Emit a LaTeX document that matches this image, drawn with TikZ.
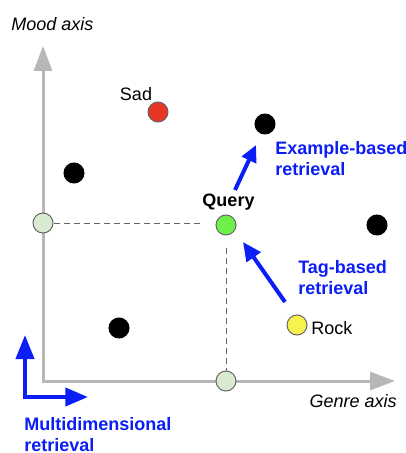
\documentclass[tikz,border=0pt]{standalone}
\usepackage{fontspec}
\setmainfont{Liberation Sans}
\usetikzlibrary{arrows.meta}
\definecolor{axisgray}{HTML}{B7B7B7}
\definecolor{bblue}{HTML}{0A1EF5}
\definecolor{dotline}{HTML}{666666}
\definecolor{projfill}{HTML}{D9EAD3}
\definecolor{qgreen}{HTML}{6EF04B}
\definecolor{sadred}{HTML}{E53626}
\definecolor{rockyellow}{HTML}{F8F24E}
\begin{document}
\begin{tikzpicture}[x=0.75pt,y=-0.75pt,
  dot/.style={circle, draw=dotline, line width=0.75pt, minimum size=15pt, inner sep=0pt},
  blackdot/.style={dot, draw=black, fill=black},
  lbl/.style={inner sep=0pt, font=\fontsize{13.5}{15.5}\selectfont},
  bluelbl/.style={lbl, text=bblue, font=\fontsize{13.5}{15.3}\selectfont\bfseries, align=left},
  axisline/.style={draw=axisgray, line width=2.25pt,
    {Triangle[length=18.75pt,width=13.5pt]}-{Triangle[length=18.75pt,width=13.5pt]}},
  projline/.style={draw=dotline, line width=0.6pt, dash pattern=on 4.5pt off 3pt},
  barrow/.style={draw=bblue, line width=3pt, -{Triangle[length=12.5pt,width=11.5pt]}}
]
\useasboundingbox (0,0) rectangle (406,453);

% axes
\coordinate (origin) at (43,381);
\coordinate (moodtip) at (43,46);
\coordinate (genretip) at (395,381);
\draw[axisline] (moodtip) -- (origin) -- (genretip);

% points
\node[dot, fill=sadred] (sad) at (158,112) {};
\node[blackdot] (b1) at (265,124) {};
\node[blackdot] (b2) at (74,173) {};
\node[blackdot] (b3) at (377,225) {};
\node[blackdot] (b4) at (119,328) {};
\node[dot, fill=qgreen] (query) at (226,225) {};
\node[dot, fill=rockyellow] (rock) at (297,325) {};
\node[dot, fill=projfill] (pm) at (43,223) {};
\node[dot, fill=projfill] (pg) at (226,381) {};

% projection lines
\draw[projline, shorten >=9.5pt] (pm.east) -- (pm.east -| query.west);
\draw[projline, shorten <=9pt] (query.south) -- (pg.north);

% labels
\node[lbl, font=\fontsize{13.5}{15.5}\selectfont\itshape, anchor=base west] (moodlbl) at (11,31) {Mood axis};
\node[lbl, font=\fontsize{13.5}{15.5}\selectfont\itshape, anchor=base east] (genrelbl) at (397,407) {Genre axis};
\node[lbl, anchor=base] (sadlbl) at (136,100) {Sad};
\node[lbl, font=\fontsize{13.5}{15.5}\selectfont\bfseries, anchor=base] (querylbl) at (228.5,206.5) {Query};
\node[lbl, anchor=base west] (rocklbl) at (311,334) {Rock};

% blue arrows
\coordinate (ex1) at (235,190);
\coordinate (ex2) at (256,145);
\draw[barrow] (ex1) -- (ex2);
\coordinate (tg1) at (285,302);
\coordinate (tg2) at (243,242);
\draw[barrow, -{Triangle[length=14pt,width=12.5pt]}] (tg1) -- (tg2);
\coordinate (mv) at (25,335);
\coordinate (mc) at (25,397);
\coordinate (mh) at (88,397);
\draw[draw=bblue, line width=3pt, line join=miter,
  {Triangle[length=18pt,width=13.5pt]}-{Triangle[length=17pt,width=13.5pt]}] (mv) -- (mc) -- (mh);

\node[bluelbl, anchor=base west] (exlbl) at (275,175) {Example-based\\retrieval};
\node[bluelbl, anchor=base west] (tglbl) at (298,294) {Tag-based\\retrieval};
\node[bluelbl, anchor=base west] (mdlbl) at (24,451) {Multidimensional\\retrieval};
\end{tikzpicture}
\end{document}
